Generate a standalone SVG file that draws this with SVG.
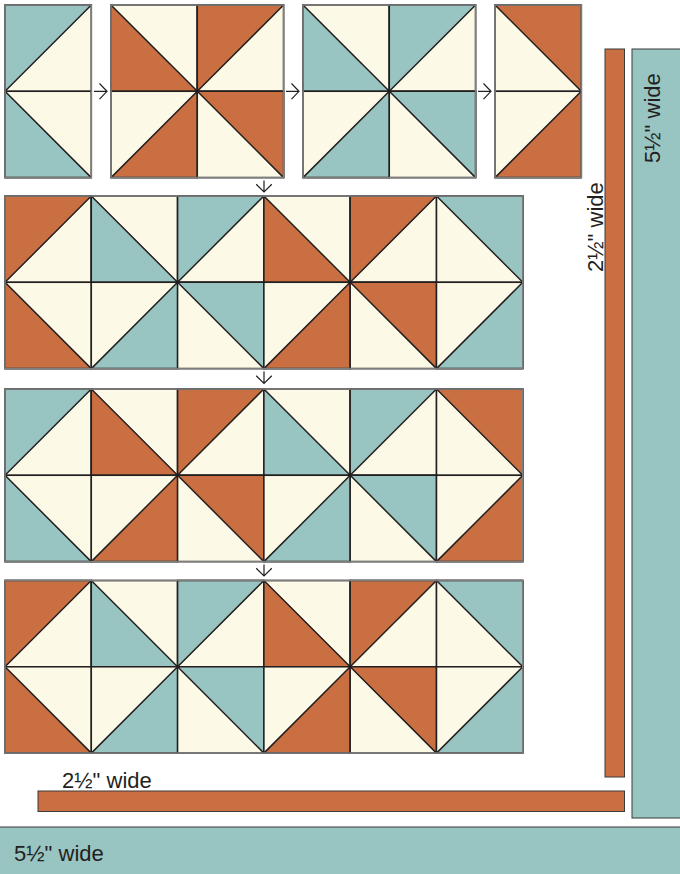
<svg xmlns="http://www.w3.org/2000/svg" xmlns:xlink="http://www.w3.org/1999/xlink" width="680" height="874" viewBox="0 0 680 874">
<style>
.cr{fill:#FCFAE7;stroke:#231F20;stroke-width:1.5}
.o{fill:#CA6F41}
.t{fill:#98C4C1}
.tri{stroke:#231F20;stroke-width:1.5;stroke-linejoin:round}
.edge{fill:none;stroke:#7d7d7d;stroke-width:1.6}
.arr{fill:none;stroke:#231F20;stroke-width:1.2}
.strip{stroke:#3b3b3b;stroke-width:1}
.lbl{font-family:"Liberation Sans","Open Sans",sans-serif;font-size:22px;fill:#231F20}
</style>
<defs>
<rect id="sq" width="86.3" height="86.3" class="cr"/>
<polygon id="tl" class="tri" points="0,0 86.3,0 0,86.3"/>
<polygon id="tr" class="tri" points="0,0 86.3,0 86.3,86.3"/>
<polygon id="bl" class="tri" points="0,0 0,86.3 86.3,86.3"/>
<polygon id="br" class="tri" points="86.3,0 86.3,86.3 0,86.3"/>
</defs>
<rect width="680" height="874" fill="#ffffff"/>

<g id="block-1">
<use href="#sq" x="5" y="5"/><use href="#tl" x="5" y="5" class="t"/>
<use href="#sq" x="5" y="91.3"/><use href="#bl" x="5" y="91.3" class="t"/>
<rect class="edge" x="5" y="5" width="86.3" height="172.6"/>
</g>
<g id="block-2">
<use href="#sq" x="111" y="5"/><use href="#bl" x="111" y="5" class="o"/>
<use href="#sq" x="197.3" y="5"/><use href="#tl" x="197.3" y="5" class="o"/>
<use href="#sq" x="111" y="91.3"/><use href="#br" x="111" y="91.3" class="o"/>
<use href="#sq" x="197.3" y="91.3"/><use href="#tr" x="197.3" y="91.3" class="o"/>
<rect class="edge" x="111" y="5" width="172.6" height="172.6"/>
</g>
<g id="block-3">
<use href="#sq" x="303" y="5"/><use href="#bl" x="303" y="5" class="t"/>
<use href="#sq" x="389.3" y="5"/><use href="#tl" x="389.3" y="5" class="t"/>
<use href="#sq" x="303" y="91.3"/><use href="#br" x="303" y="91.3" class="t"/>
<use href="#sq" x="389.3" y="91.3"/><use href="#tr" x="389.3" y="91.3" class="t"/>
<rect class="edge" x="303" y="5" width="172.6" height="172.6"/>
</g>
<g id="block-4">
<use href="#sq" x="495" y="5"/><use href="#tr" x="495" y="5" class="o"/>
<use href="#sq" x="495" y="91.3"/><use href="#br" x="495" y="91.3" class="o"/>
<rect class="edge" x="495" y="5" width="86.3" height="172.6"/>
</g>

<g id="row-1">
<use href="#sq" x="5" y="196"/><use href="#tl" x="5" y="196" class="o"/>
<use href="#sq" x="91.3" y="196"/><use href="#bl" x="91.3" y="196" class="t"/>
<use href="#sq" x="177.6" y="196"/><use href="#tl" x="177.6" y="196" class="t"/>
<use href="#sq" x="263.9" y="196"/><use href="#bl" x="263.9" y="196" class="o"/>
<use href="#sq" x="350.2" y="196"/><use href="#tl" x="350.2" y="196" class="o"/>
<use href="#sq" x="436.5" y="196"/><use href="#tr" x="436.5" y="196" class="t"/>
<use href="#sq" x="5" y="282.3"/><use href="#bl" x="5" y="282.3" class="o"/>
<use href="#sq" x="91.3" y="282.3"/><use href="#br" x="91.3" y="282.3" class="t"/>
<use href="#sq" x="177.6" y="282.3"/><use href="#tr" x="177.6" y="282.3" class="t"/>
<use href="#sq" x="263.9" y="282.3"/><use href="#br" x="263.9" y="282.3" class="o"/>
<use href="#sq" x="350.2" y="282.3"/><use href="#tr" x="350.2" y="282.3" class="o"/>
<use href="#sq" x="436.5" y="282.3"/><use href="#br" x="436.5" y="282.3" class="t"/>
<rect class="edge" x="5" y="196" width="517.8" height="172.6"/>
</g>

<g id="row-2">
<use href="#sq" x="5" y="389"/><use href="#tl" x="5" y="389" class="t"/>
<use href="#sq" x="91.3" y="389"/><use href="#bl" x="91.3" y="389" class="o"/>
<use href="#sq" x="177.6" y="389"/><use href="#tl" x="177.6" y="389" class="o"/>
<use href="#sq" x="263.9" y="389"/><use href="#bl" x="263.9" y="389" class="t"/>
<use href="#sq" x="350.2" y="389"/><use href="#tl" x="350.2" y="389" class="t"/>
<use href="#sq" x="436.5" y="389"/><use href="#tr" x="436.5" y="389" class="o"/>
<use href="#sq" x="5" y="475.3"/><use href="#bl" x="5" y="475.3" class="t"/>
<use href="#sq" x="91.3" y="475.3"/><use href="#br" x="91.3" y="475.3" class="o"/>
<use href="#sq" x="177.6" y="475.3"/><use href="#tr" x="177.6" y="475.3" class="o"/>
<use href="#sq" x="263.9" y="475.3"/><use href="#br" x="263.9" y="475.3" class="t"/>
<use href="#sq" x="350.2" y="475.3"/><use href="#tr" x="350.2" y="475.3" class="t"/>
<use href="#sq" x="436.5" y="475.3"/><use href="#br" x="436.5" y="475.3" class="o"/>
<rect class="edge" x="5" y="389" width="517.8" height="172.6"/>
</g>

<g id="row-3">
<use href="#sq" x="5" y="580.5"/><use href="#tl" x="5" y="580.5" class="o"/>
<use href="#sq" x="91.3" y="580.5"/><use href="#bl" x="91.3" y="580.5" class="t"/>
<use href="#sq" x="177.6" y="580.5"/><use href="#tl" x="177.6" y="580.5" class="t"/>
<use href="#sq" x="263.9" y="580.5"/><use href="#bl" x="263.9" y="580.5" class="o"/>
<use href="#sq" x="350.2" y="580.5"/><use href="#tl" x="350.2" y="580.5" class="o"/>
<use href="#sq" x="436.5" y="580.5"/><use href="#tr" x="436.5" y="580.5" class="t"/>
<use href="#sq" x="5" y="666.8"/><use href="#bl" x="5" y="666.8" class="o"/>
<use href="#sq" x="91.3" y="666.8"/><use href="#br" x="91.3" y="666.8" class="t"/>
<use href="#sq" x="177.6" y="666.8"/><use href="#tr" x="177.6" y="666.8" class="t"/>
<use href="#sq" x="263.9" y="666.8"/><use href="#br" x="263.9" y="666.8" class="o"/>
<use href="#sq" x="350.2" y="666.8"/><use href="#tr" x="350.2" y="666.8" class="o"/>
<use href="#sq" x="436.5" y="666.8"/><use href="#br" x="436.5" y="666.8" class="t"/>
<rect class="edge" x="5" y="580.5" width="517.8" height="172.6"/>
</g>

<g id="connectors">
<path class="arr" d="M94,91.3 H107 M99.5,83.5 L107,91.3 L99.5,99.1"/>
<path class="arr" d="M286,91.3 H299 M291.5,83.5 L299,91.3 L291.5,99.1"/>
<path class="arr" d="M478,91.3 H491 M483.5,83.5 L491,91.3 L483.5,99.1"/>
<path class="arr" d="M264,180.5 V192 M256.2,184.3 L264,192 L271.8,184.3"/>
<path class="arr" d="M264,371.5 V383.5 M256.2,375.8 L264,383.5 L271.8,375.8"/>
<path class="arr" d="M264,564.5 V576 M256.2,568.3 L264,576 L271.8,568.3"/>
</g>

<g id="strip-teal-side">
<rect class="strip t" x="632" y="49" width="50" height="769"/>
<text class="lbl" transform="translate(660,163) rotate(-90)">5½" wide</text>
</g>
<g id="strip-orange-side">
<rect class="strip o" x="605" y="49" width="19.5" height="728"/>
<text class="lbl" transform="translate(603,272) rotate(-90)">2½" wide</text>
</g>
<g id="strip-orange-bottom">
<rect class="strip o" x="38" y="791" width="586.5" height="20.5"/>
<text class="lbl" x="62" y="788">2½" wide</text>
</g>
<g id="strip-teal-bottom">
<rect class="strip t" x="-2" y="827" width="684" height="50"/>
<text class="lbl" x="14" y="861">5½" wide</text>
</g>
</svg>
